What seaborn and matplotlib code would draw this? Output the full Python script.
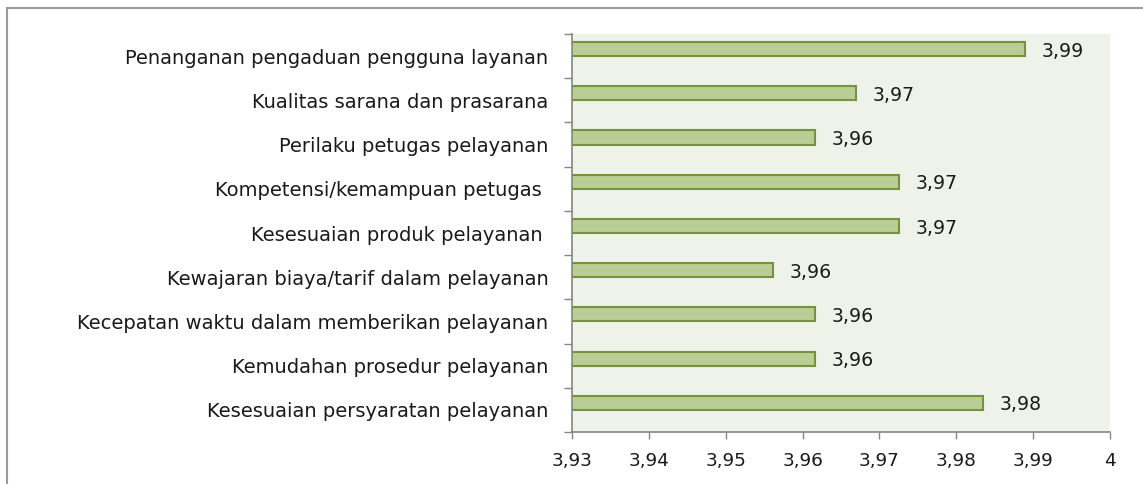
import matplotlib
matplotlib.use("Agg")
import matplotlib.pyplot as plt
import seaborn as sns
import pandas as pd
from matplotlib.lines import Line2D

categories = [
    "Penanganan pengaduan pengguna layanan",
    "Kualitas sarana dan prasarana",
    "Perilaku petugas pelayanan",
    "Kompetensi/kemampuan petugas ",
    "Kesesuaian produk pelayanan ",
    "Kewajaran biaya/tarif dalam pelayanan",
    "Kecepatan waktu dalam memberikan pelayanan",
    "Kemudahan prosedur pelayanan",
    "Kesesuaian persyaratan pelayanan",
]
values = [3.989, 3.967, 3.9616, 3.9726, 3.9726, 3.9561, 3.9616, 3.9616, 3.9835]
series_names = ["Nilai", "(kosong)"]  # second Excel series is empty
x_ticks = [3.93, 3.94, 3.95, 3.96, 3.97, 3.98, 3.99, 4.00]
x_tick_labels = ["3,93", "3,94", "3,95", "3,96", "3,97", "3,98", "3,99", "4"]

df = pd.DataFrame({"aspek": categories, "nilai": values, "seri": series_names[0]})

sns.set_style("white")
plt.rcParams["font.family"] = ["DejaVu Sans"]

W, H = 1143, 484
fig = plt.figure(figsize=(W / 100, H / 100), dpi=100)
ax = fig.add_axes([572 / W, 1 - 432 / H, (1110 - 572) / W, (432 - 34) / H])
ax.set_facecolor("#EFF2E9")

sns.barplot(data=df, x="nilai", y="aspek", hue="seri", hue_order=series_names,
            orient="h", order=categories,
            palette={series_names[0]: "#B9CE95", series_names[1]: "#B9CE95"},
            edgecolor="#76923C", linewidth=1.5, width=0.64, dodge=True,
            saturation=1, legend=False, ax=ax)

txt_color = "#1A1A1A"
ax.set_xlim(3.93, 4.0)
ax.set_ylim(len(categories) - 0.5, -0.5)
ax.set_xticks(x_ticks)
ax.set_xticklabels(x_tick_labels, fontsize=13.3, color=txt_color)
ax.set_yticks(range(len(categories)))
ax.set_yticklabels(categories, fontsize=14, color=txt_color)
ax.set_yticks([i - 0.5 for i in range(len(categories) + 1)], minor=True)
ax.tick_params(axis="y", which="major", left=True, length=0, pad=17)
ax.tick_params(axis="y", which="minor", left=True, direction="out",
               length=5.5, color="#868686", width=1)
ax.tick_params(axis="x", which="major", bottom=True, direction="out",
               length=5, color="#868686", width=1, pad=9.5)
ax.set_xlabel("")
ax.set_ylabel("")
for s in ["top", "right"]:
    ax.spines[s].set_visible(False)
for s in ["left", "bottom"]:
    ax.spines[s].set_color("#868686")
    ax.spines[s].set_linewidth(1.2)

bar_offset = -0.64 / 4
for i, v in enumerate(values):
    ax.annotate(f"{v:.2f}".replace(".", ","), xy=(v, i + bar_offset), xytext=(12, -1.5),
                textcoords="offset points", va="center", ha="left",
                fontsize=13.6, color=txt_color)

# outer chart border
fig.add_artist(Line2D([7 / W, 1.0], [1 - 7.5 / H, 1 - 7.5 / H], transform=fig.transFigure,
                      color="#9A9A9A", linewidth=1.5))
fig.add_artist(Line2D([7 / W, 7 / W], [0, 1 - 7.5 / H], transform=fig.transFigure,
                      color="#9A9A9A", linewidth=1.5))

fig.savefig("out.png", dpi=100, facecolor="white")
